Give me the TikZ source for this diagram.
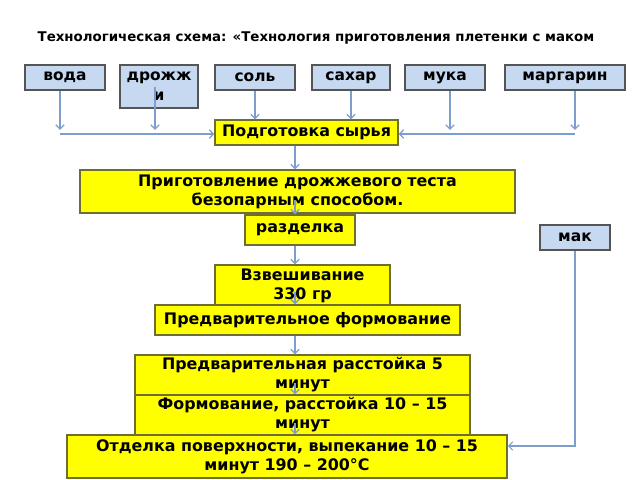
\documentclass[tikz,border=0pt]{standalone}
\usepackage{fontspec}
\setmainfont{DejaVu Sans}
\usepackage{tikz}
\usetikzlibrary{
  arrows.meta
}

\definecolor{ingrfill}{RGB}{198,217,241}
\definecolor{ingrline}{RGB}{85,85,85}
\definecolor{stagefill}{RGB}{255,255,0}
\definecolor{stageline}{RGB}{110,110,50}
\definecolor{linkblue}{RGB}{125,158,205}

\begin{document}
\begin{tikzpicture}[x=0.025cm, y=-0.025cm,
    >={Straight Barb[length=3pt,width=6pt]},
    ingr/.style={draw=ingrline, fill=ingrfill, line width=1pt,
      font=\bfseries\fontsize{11}{14}\selectfont,
      align=center, inner sep=0pt, minimum height=0.625cm},
    stage/.style={draw=stageline, fill=stagefill, line width=1pt,
      font=\bfseries\fontsize{11.3}{13.5}\selectfont,
      align=center, inner sep=0pt},
    link/.style={draw=linkblue, line width=0.8pt, ->}]
      \useasboundingbox (0,0) rectangle (640,480);

      \node [font=\bfseries\fontsize{9.5}{11}\selectfont] (title) at (316,38)
        {Технологическая схема: «Технология приготовления плетенки с маком};

      % ingredients
      \node [ingr, minimum width=2cm] (voda) at (65,77.5) {вода};
      \node [ingr, minimum width=1.95cm,
        minimum height=1.075cm] (drozh) at (159,86.5) {дрожж\\и};
      \node [ingr, minimum width=2cm] (salt) at (255,77.5) {соль};
      \node [ingr, minimum width=1.95cm] (sugar) at (351,77.5) {сахар};
      \node [ingr, minimum width=2cm] (flour) at (445,77.5) {мука};
      \node [ingr, minimum width=3cm] (marg) at (565,77.5) {маргарин};
      \node [ingr, minimum width=1.75cm] (mak) at (575,237.5) {мак};

      % stages
      \node [stage, minimum width=4.575cm,
        minimum height=0.625cm] (prep) at (306.5,132.5) {Подготовка сырья};
      \node [stage, minimum width=10.875cm,
        minimum height=1.075cm] (dough) at (297.5,191.5)
        {Приготовление дрожжевого теста\\безопарным способом.};
      \node [stage, minimum width=2.75cm,
        minimum height=0.75cm] (cut) at (300,230) {разделка};
      \node [stage, minimum width=4.375cm,
        minimum height=1.05cm] (weigh) at (302.5,286) {Взвешивание\\330 гр};
      \node [stage, minimum width=7.625cm,
        minimum height=0.75cm] (preform) at (307.5,320) {Предварительное формование};
      \node [stage, minimum width=8.375cm,
        minimum height=1cm] (prerest) at (302.5,375)
        {Предварительная расстойка 5\\минут};
      \node [stage, minimum width=8.375cm,
        minimum height=1cm] (shape) at (302.5,415)
        {Формование, расстойка 10 – 15\\минут};
      \node [stage, minimum width=11cm,
        minimum height=1.075cm] (bake) at (287,456.5)
        {Отделка поверхности, выпекание 10 – 15\\минут 190 – 200°C};

      \coordinate (axis) at (295,0);
      \coordinate (inL) at (60,134);
      \coordinate (inL2) at (155,134);
      \coordinate (inR2) at (450,134);
      \coordinate (inR) at (575,134);
      \coordinate (makin) at (575,446);

      % ingredients into preparation
      \draw [link] (voda.south -| inL) -- ([yshift=3pt]inL);
      \draw [link] (drozh.center -| inL2) -- ([yshift=3pt]inL2);
      \draw [link] (salt.south) -- (salt.south |- prep.north);
      \draw [link] (sugar.south) -- (sugar.south |- prep.north);
      \draw [link] (flour.south -| inR2) -- ([yshift=3pt]inR2);
      \draw [link] (marg.south -| inR) -- ([yshift=3pt]inR);
      \draw [link] (inL) -- (inL -| prep.west);
      \draw [link] (inR) -- (inR -| prep.east);

      % main line
      \draw [link] (prep.south -| axis) -- (dough.north -| axis);
      \draw [link] ([yshift=-6pt]dough.center -| axis) -- (cut.north -| axis);
      \draw [link] (cut.south -| axis) -- (weigh.north -| axis);
      \draw [link] ([yshift=-4pt]weigh.center -| axis) -- (preform.north -| axis);
      \draw [link] (preform.south -| axis) -- (prerest.north -| axis);
      \draw [link] ([yshift=-6pt]prerest.center -| axis) -- (shape.north -| axis);
      \draw [link] ([yshift=-6pt]shape.center -| axis) -- (bake.north -| axis);

      \draw [link] (mak.south) -- (makin) -- (makin -| bake.east);
    \end{tikzpicture}
\end{document}
